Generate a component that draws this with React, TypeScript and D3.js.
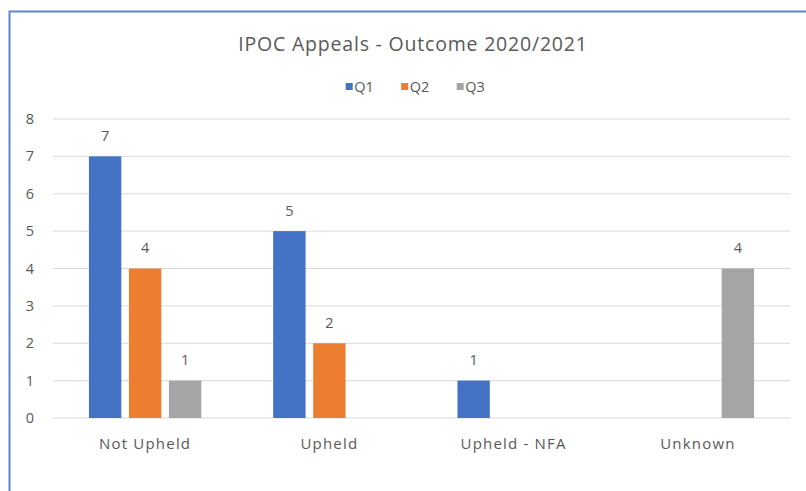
import React from "react";
import * as d3 from "d3";

const categories = ["Not Upheld", "Upheld", "Upheld - NFA", "Unknown"];
const seriesNames = ["Q1", "Q2", "Q3"];
const q1Values = [7, 5, 1, null];
const q2Values = [4, 2, null, null];
const q3Values = [1, null, null, 4];
const yTicks = [0, 1, 2, 3, 4, 5, 6, 7, 8];
const chartTitle = "IPOC Appeals - Outcome 2020/2021";

const seriesValues = [q1Values, q2Values, q3Values];
const colors = ["#4472C4", "#ED7D31", "#A5A5A5"];

const W = 806;
const H = 491;
const FONT = "'Open Sans', 'Liberation Sans', sans-serif";
const TEXT = "#595959";

export default function App() {
  const plotLeft = 53;
  const plotRight = 790;
  const y = d3.scaleLinear().domain([0, 8]).range([418, 119]);
  const x0 = d3
    .scaleBand<string>()
    .domain(categories)
    .range([plotLeft, plotRight])
    .paddingInner(0.39)
    .paddingOuter(0.195);
  const x1 = d3
    .scaleBand<string>()
    .domain(seriesNames)
    .range([0, x0.bandwidth()])
    .paddingInner(0.19)
    .paddingOuter(0);

  const legendStep = 55.5;
  const legendStart = 345.7;

  return (
    <svg
      width={W}
      height={H}
      style={{ position: "absolute", left: 0, top: 0, background: "#fff" }}
      fontFamily={FONT}
    >
      <rect x={0} y={0} width={W} height={H} fill="#fff" />
      {/* frame */}
      <path d={`M9.5,${H} L9.5,11.5 L${W},11.5`} fill="none" stroke="#5A88D0" strokeWidth={2} />

      {/* title */}
      <text x={413} y={51} textAnchor="middle" fontSize={19.5} letterSpacing={0.8} fill={TEXT}>
        {chartTitle}
      </text>

      {/* legend */}
      {seriesNames.map((s, i) => (
        <g key={s} transform={`translate(${legendStart + i * legendStep},0)`}>
          <rect x={0} y={83} width={7} height={7} fill={colors[i]} />
          <text x={8.5} y={92} fontSize={14.5} fill={TEXT}>
            {s}
          </text>
        </g>
      ))}

      {/* gridlines */}
      {yTicks.map((t) => (
        <g key={t}>
          <line x1={plotLeft} x2={plotRight} y1={y(t)} y2={y(t)} stroke="#D9D9D9" strokeWidth={1} />
          <text x={34} y={y(t)} dy="0.35em" textAnchor="end" fontSize={14.5} fill={TEXT}>
            {t}
          </text>
        </g>
      ))}

      {/* bars + data labels */}
      {categories.map((c, ci) => (
        <g key={c} transform={`translate(${x0(c)},0)`}>
          {seriesNames.map((s, si) => {
            const v = seriesValues[si][ci];
            if (v == null) return null;
            const bx = x1(s) as number;
            return (
              <g key={s}>
                <rect
                  x={bx}
                  y={y(v)}
                  width={x1.bandwidth()}
                  height={y(0) - y(v)}
                  fill={colors[si]}
                />
                <text
                  x={bx + x1.bandwidth() / 2}
                  y={y(v) - 15.5}
                  textAnchor="middle"
                  fontSize={14.5}
                  fill={TEXT}
                >
                  {v}
                </text>
              </g>
            );
          })}
        </g>
      ))}

      {/* category labels */}
      {categories.map((c) => (
        <text
          key={c}
          x={(x0(c) as number) + x0.bandwidth() / 2}
          y={449}
          textAnchor="middle"
          fontSize={15}
          letterSpacing={1.2}
          fill={TEXT}
        >
          {c}
        </text>
      ))}
    </svg>
  );
}
